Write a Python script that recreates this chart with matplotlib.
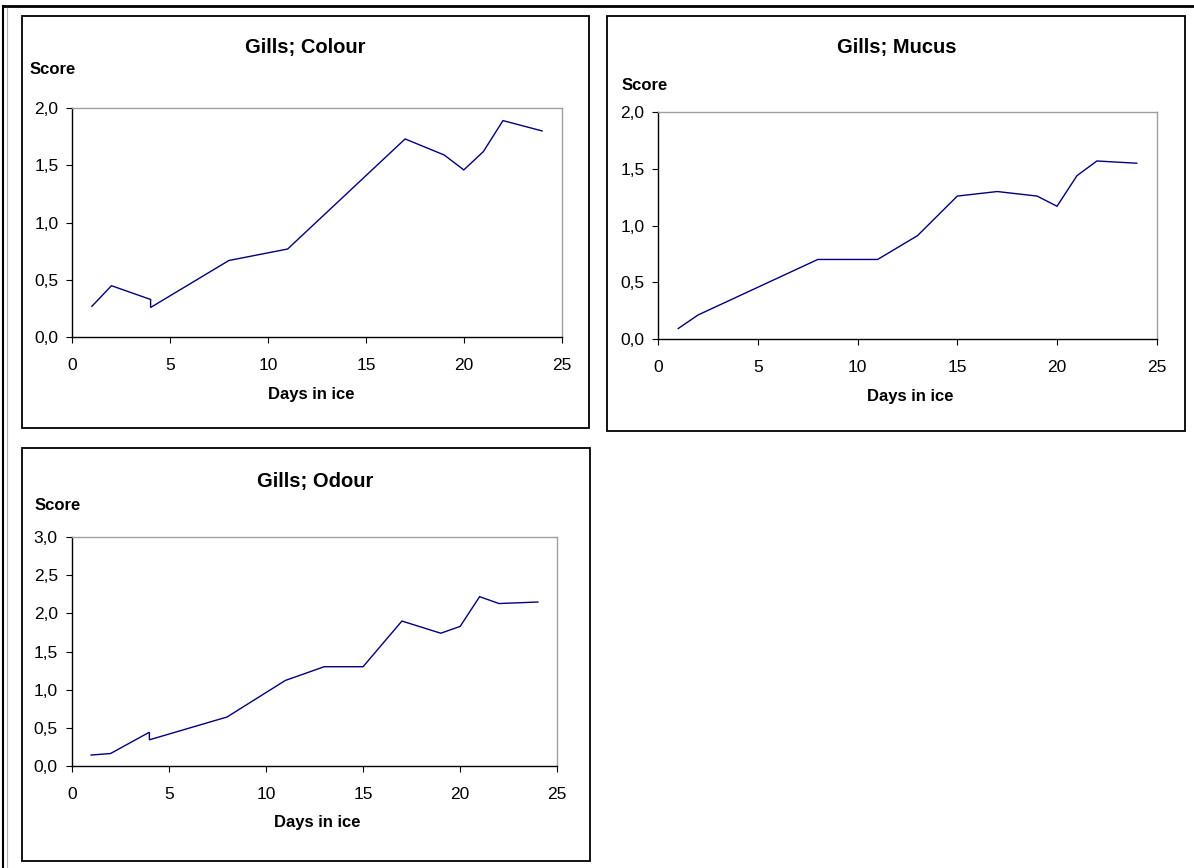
import matplotlib
matplotlib.use("Agg")
import matplotlib.pyplot as plt
from matplotlib.patches import Rectangle
from matplotlib.lines import Line2D

plt.rcParams['font.family'] = ['Liberation Sans', 'DejaVu Sans']

W, H = 1194, 868

# ---- data ----
colour_days = [1, 2, 4, 4, 8, 11, 17, 19, 20, 21, 22, 24]
colour_score = [0.27, 0.45, 0.33, 0.26, 0.67, 0.77, 1.73, 1.59, 1.46, 1.62, 1.89, 1.80]

mucus_days = [1, 2, 8, 11, 13, 15, 17, 19, 20, 21, 22, 24]
mucus_score = [0.09, 0.21, 0.70, 0.70, 0.91, 1.26, 1.30, 1.26, 1.17, 1.44, 1.57, 1.55]

odour_days = [1, 2, 4, 4, 8, 11, 13, 15, 17, 19, 20, 21, 22, 24]
odour_score = [0.14, 0.16, 0.44, 0.34, 0.64, 1.12, 1.30, 1.30, 1.90, 1.74, 1.83, 2.22, 2.13, 2.15]

titles = ["Gills; Colour", "Gills; Mucus", "Gills; Odour"]
xlabel = "Days in ice"
ylabel = "Score"
x_ticks = [0, 5, 10, 15, 20, 25]
y_ticks_2 = [0.0, 0.5, 1.0, 1.5, 2.0]
y_ticks_3 = [0.0, 0.5, 1.0, 1.5, 2.0, 2.5, 3.0]

fig = plt.figure(figsize=(W / 100, H / 100), dpi=100)

def fx(x):
    return x / W

def fy(y):
    return 1 - y / H

def rect_ax(l, t, r, b):
    return [fx(l), fy(b), fx(r) - fx(l), fy(t) - fy(b)]

# outer frame lines
fig.add_artist(Line2D([fx(3), fx(1194)], [fy(6), fy(6)], color='black', lw=2.0))
fig.add_artist(Line2D([fx(3), fx(3)], [fy(6), fy(868)], color='black', lw=1.5))
fig.add_artist(Line2D([fx(7), fx(7)], [fy(8), fy(868)], color='#b0b0b0', lw=0.8))

# panel boxes
boxes = [(22, 16, 589, 428), (607, 16, 1185, 431), (22, 448, 590, 861)]
for (l, t, r, b) in boxes:
    fig.add_artist(Rectangle((fx(l), fy(b)), fx(r) - fx(l), fy(t) - fy(b),
                             fill=False, edgecolor='black', lw=1.3,
                             transform=fig.transFigure))

panels = [
    dict(days=colour_days, score=colour_score, yt=y_ticks_2, ymax=2.0,
         ax=(72.3, 108, 561.7, 337.3), title=(305, 48), score_pos=(30, 70),
         xl=(311, 395)),
    dict(days=mucus_days, score=mucus_score, yt=y_ticks_2, ymax=2.0,
         ax=(658.3, 112.3, 1156.7, 338.7), title=(897, 48), score_pos=(622, 86),
         xl=(910, 396)),
    dict(days=odour_days, score=odour_score, yt=y_ticks_3, ymax=3.0,
         ax=(71.7, 537.3, 557.3, 765.7), title=(315, 481), score_pos=(35, 505),
         xl=(317, 823)),
]

for i, p in enumerate(panels):
    ax = fig.add_axes(rect_ax(*p['ax']))
    ax.plot(p['days'], p['score'], color='#000080', lw=1.0, solid_joinstyle='miter')
    ax.set_xlim(0, 25)
    ax.set_ylim(0, p['ymax'])
    ax.set_xticks(x_ticks)
    ax.set_xticklabels([str(v) for v in x_ticks])
    ax.set_yticks(p['yt'])
    ax.set_yticklabels([f"{v:.1f}".replace('.', ',') for v in p['yt']])
    for s in ['top', 'right']:
        ax.spines[s].set_color('#a0a0a0')
        ax.spines[s].set_linewidth(1.0)
    for s in ['left', 'bottom']:
        ax.spines[s].set_color('black')
        ax.spines[s].set_linewidth(1.0)
    ax.tick_params(axis='both', direction='out', length=4, width=0.8,
                   color='black', labelsize=12.5)
    ax.tick_params(axis='x', pad=11)
    ax.tick_params(axis='y', pad=6)
    ax.set_facecolor('white')
    ax.patch.set_alpha(0)
    tx, ty = p['title']
    fig.text(fx(tx), fy(ty), titles[i], ha='center', va='center',
             fontsize=14.5, fontweight='bold')
    sx, sy = p['score_pos']
    fig.text(fx(sx), fy(sy), ylabel, ha='left', va='center',
             fontsize=12, fontweight='bold')
    lx, ly = p['xl']
    fig.text(fx(lx), fy(ly), xlabel, ha='center', va='center',
             fontsize=12, fontweight='bold')

fig.savefig("out.png", dpi=100, facecolor='white')
